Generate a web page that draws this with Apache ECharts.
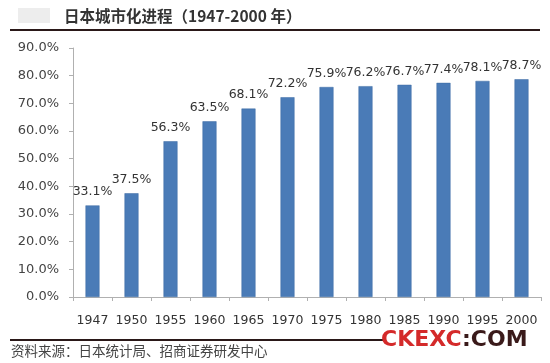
<!DOCTYPE html>
<html><head><meta charset="utf-8">
<script src="https://cdn.jsdelivr.net/npm/echarts@6/dist/echarts.min.js"></script>
<style>html,body{margin:0;padding:0;background:#fff}#c{width:550px;height:363px}</style>
</head><body><div id="c"></div>
<script>
const categories = ['1947','1950','1955','1960','1965','1970','1975','1980','1985','1990','1995','2000'];
const urbanRate = [33.1, 37.5, 56.3, 63.5, 68.1, 72.2, 75.9, 76.2, 76.7, 77.4, 78.1, 78.7];
const yTicks = [0, 10, 20, 30, 40, 50, 60, 70, 80, 90];
const titleText = '日本城市化进程（1947-2000 年）';
const sourceText = '资料来源：日本统计局、招商证券研发中心';

const chart = echarts.init(document.getElementById('c'));
chart.setOption({
  animation: false,
  backgroundColor: '#fff',
  grid: {left: 73, right: 9, top: 48, bottom: 66},
  xAxis: {
    type: 'category', data: categories,
    axisLine: {lineStyle: {color: '#b0b0b0'}},
    axisTick: {show: true, length: 4, lineStyle: {color: '#b0b0b0'}},
    axisLabel: {color: '#333', fontSize: 12.5, fontFamily: 'DejaVu Sans', margin: 17, interval: 0}
  },
  yAxis: {
    type: 'value', min: yTicks[0], max: yTicks[yTicks.length - 1], interval: 10,
    splitLine: {show: false},
    axisLine: {show: true, lineStyle: {color: '#b0b0b0'}},
    axisTick: {show: true, length: 4, lineStyle: {color: '#b0b0b0'}},
    axisLabel: {color: '#444', fontSize: 13, fontFamily: 'DejaVu Sans', margin: 14,
      formatter: v => v.toFixed(1) + '%'}
  },
  series: [{
    type: 'bar', data: urbanRate, barWidth: 14,
    itemStyle: {color: '#4a7bb7', borderColor: '#3d6aa3', borderWidth: 0.5},
    label: {show: true, position: 'top', distance: 7, color: '#333', fontSize: 12.5,
      fontFamily: 'DejaVu Sans', formatter: p => p.value.toFixed(1) + '%'}
  }],
  graphic: [
    {type: 'rect', left: 18, top: 8, shape: {width: 32, height: 15}, style: {fill: '#ededed'}},
    {type: 'text', left: 64, top: 8, style: {text: titleText, fill: '#333', font: 'bold 15.5px "Noto Sans CJK SC"'}},
    {type: 'rect', left: 10, top: 29, shape: {width: 530, height: 2}, style: {fill: '#2a1818'}},
    {type: 'rect', left: 10, top: 339, shape: {width: 375, height: 2}, style: {fill: '#2a1818'}},
    {type: 'text', left: 11, top: 344, style: {text: sourceText, fill: '#444', font: '13.5px "Noto Sans CJK SC"'}},
    {type: 'text', left: 381, top: 329, style: {text: 'CKEXC', fill: '#d42a2a', font: 'bold 22px "DejaVu Sans"'}},
    {type: 'text', left: 462, top: 329, style: {text: ':COM', fill: '#3a1a1a', font: 'bold 22px "DejaVu Sans"'}}
  ]
});
</script></body></html>
